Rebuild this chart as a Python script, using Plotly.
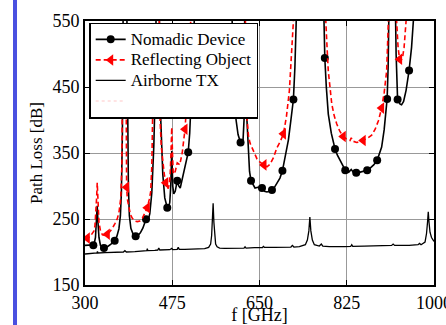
import plotly.graph_objects as go

# ---------------- data ----------------
nomadic_f = [300, 305, 310, 316.7, 318, 321, 323, 324.5, 326, 328, 331, 335, 338, 345, 352, 359.5,
             364, 368, 371, 373, 375, 376.5, 378, 380, 383, 384, 385.5, 387, 389, 392, 396, 401.6,
             406, 411, 416, 422.4, 426, 430, 434, 438, 441, 444, 446, 448, 450, 452, 456, 460, 465,
             467, 470, 472, 474, 476, 478, 481, 485, 488, 491, 495, 500, 504, 507, 510, 512, 515,
             518, 521, 530, 557, 585, 595, 600, 603, 607, 612, 615, 617, 619, 620.7, 622, 624,
             627.6, 630, 633, 637, 641, 647, 655, 660, 665, 670, 675, 680, 686, 691, 696, 702,
             708, 713, 718, 721, 724.6, 730, 752, 775, 779, 781, 784, 788, 794, 801.5, 806, 811.5,
             817, 822, 829, 834, 838, 844, 852, 858, 866, 872, 879, 886, 890, 895, 900, 906, 908,
             910.5, 914, 916, 919, 922, 924, 927, 932, 935, 939, 944, 950, 955, 958.6, 965, 975,
             988, 1000]
nomadic_pl = [210, 210, 210, 210.4, 211, 222, 245, 270, 245, 222, 210, 206, 206, 208, 212, 217,
              224, 235, 255, 290, 380, 560, 800, 1000, 700, 560, 400, 300, 255, 236, 228, 224,
              225, 229, 236, 249.6, 246, 258, 290, 360, 450, 560, 800, 700, 470, 400, 318, 282, 267,
              265, 275, 300, 353, 300, 288, 292, 308, 300, 297, 310, 325, 338, 351, 380, 410, 460,
              520, 600, 800, 1200, 800, 550, 430, 400, 378, 366, 362, 370, 400, 600, 450, 412,
              342, 322, 308, 302, 297, 298, 297, 292, 291, 292, 294, 298, 305, 312, 323, 345,
              370, 400, 431, 480, 550, 700, 1300, 700, 560, 494, 450, 409, 380, 356, 347, 339,
              330, 324, 321, 325, 321, 320, 321, 322, 324, 327, 332, 339, 347, 359, 385, 432, 480,
              550, 800, 900, 800, 600, 500, 431, 424, 423, 428, 445, 475, 510, 550, 750, 800,
              1000, 800]

nomadic_mark_f = [316.7, 338, 359.5, 401.6, 422.4, 465, 485, 507, 612, 633, 655, 675, 696, 718,
                  781, 801.5, 822, 844, 866, 886, 906, 927, 950]
nomadic_mark_pl = [210.4, 206, 217, 224, 249.6, 267, 308, 351, 366, 308, 297, 294, 323, 431,
                   494, 356, 324, 320, 324, 339, 432, 431, 475]

reflect_f = [300, 304.7, 310, 315, 318, 320, 322, 323.5, 324.5, 326, 328, 331, 335, 340, 344.8, 350,
             355, 360, 365, 368.5, 371.6, 374, 376, 378, 380, 381.5, 382.5, 383.5, 385, 388, 391,
             395, 400, 405, 410, 415, 420, 425, 429, 431.7, 434, 435.5, 437, 440, 448, 449, 450.5,
             453, 456, 459, 462, 465, 467, 469, 471, 472.5, 474, 475.5, 477, 481, 485, 490, 495,
             500.6, 504, 508, 512, 520, 557, 600, 615, 620.7, 622, 624, 628, 631, 638, 645, 651,
             659, 665, 671, 678, 685, 692, 698, 704, 710, 714, 718, 725, 752, 780, 783, 785.5, 788,
             795, 800, 805, 811, 818, 825, 831.6, 834, 837, 845, 851, 858, 866, 875, 882, 888.5,
             895, 900, 905, 908.5, 913, 916, 920, 925, 928, 931, 934, 937, 940, 944, 948, 955,
             988, 1000]
reflect_pl = [222, 221, 223, 228, 232, 240, 258, 285, 305, 275, 245, 232, 226, 225, 227, 231,
              236, 243, 251, 262, 281, 330, 550, 900, 1100, 600, 380, 298, 280, 266, 257,
              251, 247, 246, 247, 251, 258, 267, 280, 291, 330, 400, 550, 900, 1000, 550, 402,
              360, 335, 318, 305, 298, 296, 303, 320, 350, 389, 350, 318, 322, 335, 332, 350,
              386, 420, 470, 550, 800, 1300, 800, 500, 800, 500, 412, 375, 365, 352, 341, 336,
              332, 329, 333, 343, 358, 368, 379, 405, 445, 490, 550, 800, 1400, 800, 550, 510, 474,
              424, 406, 394, 383, 375, 371, 369, 373, 368, 366, 367, 369, 372, 377, 386, 399,
              418, 441, 474, 550, 800, 1000, 800, 550, 510, 492, 490, 495, 510, 550, 620, 800,
              1200, 900]

reflect_mark_f = [304.7, 344.8, 383.5, 425, 462, 500.6, 659, 698, 818, 858, 895, 931]
reflect_mark_pl = [221, 227, 298, 267, 305, 386, 332, 379, 375, 369, 418, 492]

airborne_f = [300, 320, 324, 325, 326, 340, 360, 377, 380, 383, 400, 420, 424, 425, 426, 440, 446,
              448, 450, 470, 474, 476, 485, 487, 489, 500, 520, 540, 548, 552, 554, 555.5, 557,
              558.5, 560, 562, 565, 570, 580, 600, 619, 621, 623, 640, 656, 658, 660, 680, 700,
              713, 716, 719, 730, 742, 746, 749, 751, 753, 756, 760, 770, 774, 777, 790, 820,
              833, 835, 837, 860, 900, 915, 918, 921, 950, 968, 971, 974, 982, 985, 987, 988.5,
              990, 992, 995, 1000]
airborne_pl = [197, 198, 198.5, 201, 198.5, 199, 199.5, 200, 202, 200, 200.5, 201.5, 202, 205, 202,
               202.5, 203, 206, 203, 203.5, 205.5, 203.5, 204, 207, 204, 204, 204.5, 205, 207, 212,
               225, 245, 274, 245, 225, 212, 208, 206, 205.5, 205.5, 206, 208, 206, 206.5, 206.8,
               208.5, 207, 207, 207, 207.5, 210, 207.5, 208, 211, 218, 232, 253, 232, 218, 211,
               209, 212, 209, 208, 208, 208.5, 211, 208.5, 209, 209.5, 210, 212, 210, 210, 211,
               213, 211, 215, 228, 245, 261, 245, 230, 222, 216]

x_ticks = [300, 475, 650, 825, 1000]
y_ticks = [150, 250, 350, 450, 550]

series_names = ["Nomadic Device", "Reflecting Object", "Airborne TX"]

FONT = "Liberation Serif"


def big(t):
    return "<span style='font-size:17px'>" + t + "</span>"


fig = go.Figure()

# curves
fig.add_trace(go.Scatter(x=nomadic_f, y=nomadic_pl, mode="lines",
                         line=dict(color="black", width=1.6), showlegend=False))
fig.add_trace(go.Scatter(x=nomadic_mark_f, y=nomadic_mark_pl, mode="markers",
                         marker=dict(color="black", size=8, symbol="circle"), showlegend=False))
fig.add_trace(go.Scatter(x=reflect_f, y=reflect_pl, mode="lines",
                         line=dict(color="#ff0000", width=1.6, dash="5px,3px"), showlegend=False))
fig.add_trace(go.Scatter(x=reflect_mark_f, y=reflect_mark_pl, mode="markers",
                         marker=dict(color="#ff0000", size=10, symbol="triangle-left"),
                         showlegend=False))
fig.add_trace(go.Scatter(x=airborne_f, y=airborne_pl, mode="lines",
                         line=dict(color="black", width=1.3), showlegend=False))

# legend entries
fig.add_trace(go.Scatter(x=[None], y=[None], mode="lines+markers", name=big(series_names[0]),
                         line=dict(color="black", width=1.6),
                         marker=dict(color="black", size=8, symbol="circle")))
fig.add_trace(go.Scatter(x=[None], y=[None], mode="lines+markers", name=big(series_names[1]),
                         line=dict(color="#ff0000", width=1.6, dash="5px,3px"),
                         marker=dict(color="#ff0000", size=10, symbol="triangle-left")))
fig.add_trace(go.Scatter(x=[None], y=[None], mode="lines", name=big(series_names[2]),
                         line=dict(color="black", width=1.3)))
fig.add_trace(go.Scatter(x=[None], y=[None], mode="lines", name=" ",
                         line=dict(color="rgba(255,0,0,0.15)", width=1.3, dash="3px,3px")))

axis_common = dict(
    showline=True, linecolor="black", linewidth=1.8, mirror="ticks",
    ticks="inside", ticklen=5, tickwidth=1.2, tickcolor="black",
    showgrid=True, gridcolor="#999999", gridwidth=1,
    zeroline=False, automargin=False, ticklabeloverflow="allow",
    tickfont=dict(family=FONT, size=18, color="black"),
)

fig.update_xaxes(range=[300, 1000], tickvals=x_ticks, ticktext=[str(v) for v in x_ticks],
                 title=dict(text="f [GHz]", font=dict(family=FONT, size=18, color="black"),
                            standoff=6),
                 **axis_common)
fig.update_yaxes(range=[150, 550], tickvals=y_ticks, ticktext=[str(v) for v in y_ticks],
                 title=dict(text="Path Loss [dB]", font=dict(family=FONT, size=17, color="black"),
                            standoff=6),
                 **axis_common)

fig.update_layout(
    width=446, height=325,
    margin=dict(l=85, r=12, t=21, b=40),
    paper_bgcolor="white", plot_bgcolor="white",
    font=dict(family=FONT, size=17, color="black"),
    showlegend=True,
    legend=dict(x=0.012, y=0.994, xanchor="left", yanchor="top",
                bgcolor="white", bordercolor="black", borderwidth=1.5,
                font=dict(family=FONT, size=13.5, color="black"),
                tracegroupgap=0, itemwidth=30),
    shapes=[dict(type="rect", xref="paper", yref="paper",
                 x0=-0.2063, x1=-0.1948, y0=-0.2, y1=1.2,
                 fillcolor="#4a50e0", line=dict(width=0), layer="above")],
)

fig.write_html("out.html")
